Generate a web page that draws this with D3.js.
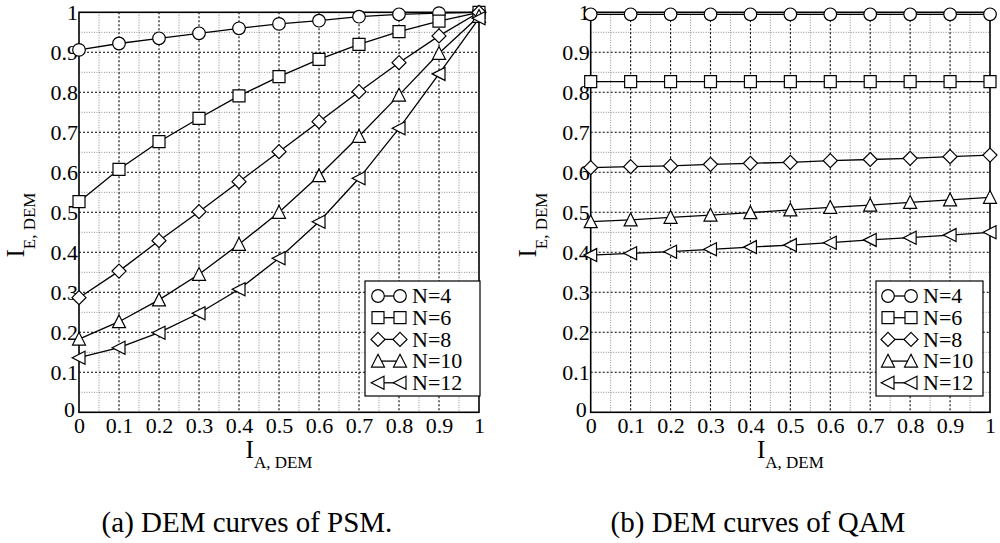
<!DOCTYPE html>
<html>
<head>
<meta charset="utf-8">
<script src="https://cdn.jsdelivr.net/npm/d3@7"></script>
</head>
<body style="margin:0;background:#fff">
<svg id="chart" width="1000" height="543" style="display:block"></svg>
<script>
// ---------- data ----------
const xValues = [0, 0.1, 0.2, 0.3, 0.4, 0.5, 0.6, 0.7, 0.8, 0.9, 1];
const xTickValues = [0, 0.1, 0.2, 0.3, 0.4, 0.5, 0.6, 0.7, 0.8, 0.9, 1];
const xTickLabels = ["0", "0.1", "0.2", "0.3", "0.4", "0.5", "0.6", "0.7", "0.8", "0.9", "1"];
const yTickValues = [0, 0.1, 0.2, 0.3, 0.4, 0.5, 0.6, 0.7, 0.8, 0.9, 1];
const yTickLabels = ["0", "0.1", "0.2", "0.3", "0.4", "0.5", "0.6", "0.7", "0.8", "0.9", "1"];
const seriesNames = ["N=4", "N=6", "N=8", "N=10", "N=12"];
const seriesMarkers = ["circle", "square", "diamond", "triangleUp", "triangleLeft"];

// (a) PSM
const psmN4  = [0.906, 0.922, 0.935, 0.9475, 0.96, 0.971, 0.979, 0.989, 0.995, 0.998, 1.0];
const psmN6  = [0.5265, 0.6075, 0.6765, 0.735, 0.791, 0.839, 0.8825, 0.92, 0.9515, 0.978, 1.0];
const psmN8  = [0.2865, 0.353, 0.429, 0.5015, 0.5765, 0.6515, 0.7265, 0.8015, 0.874, 0.941, 1.0];
const psmN10 = [0.183, 0.2265, 0.281, 0.345, 0.42, 0.5, 0.5915, 0.69, 0.793, 0.8975, 0.99];
const psmN12 = [0.1365, 0.1615, 0.199, 0.2475, 0.3075, 0.385, 0.4765, 0.585, 0.71, 0.846, 0.985];

// (b) QAM
const qamN4  = [0.995, 0.995, 0.995, 0.995, 0.995, 0.995, 0.995, 0.995, 0.995, 0.995, 0.995];
const qamN6  = [0.8265, 0.8265, 0.8265, 0.8265, 0.8265, 0.8265, 0.8265, 0.8265, 0.8265, 0.8265, 0.8265];
const qamN8  = [0.6115, 0.614, 0.616, 0.62, 0.6225, 0.625, 0.629, 0.632, 0.635, 0.639, 0.643];
const qamN10 = [0.4765, 0.481, 0.4875, 0.493, 0.499, 0.506, 0.5125, 0.518, 0.525, 0.531, 0.5375];
const qamN12 = [0.393, 0.3975, 0.4015, 0.4075, 0.413, 0.418, 0.424, 0.431, 0.4365, 0.443, 0.45];

const xLabelMain = "I";
const xLabelSub = "A, DEM";
const yLabelMain = "I";
const yLabelSub = "E, DEM";
const captionA = "(a) DEM curves of PSM.";
const captionB = "(b) DEM curves of QAM";

// ---------- layout ----------
const FONT = '"Liberation Serif", "Times New Roman", monospace';
const svg = d3.select("#chart");
const panels = [
  { left: 79, right: 479, top: 12.3, bottom: 412.3,
    series: [psmN4, psmN6, psmN8, psmN10, psmN12],
    legend: { x: 365, y: 281, w: 115, h: 115, sym1: 13, sym2: 35, text: 47 },
    caption: captionA, captionX: 247 },
  { left: 590.7, right: 990, top: 12.3, bottom: 412.3,
    series: [qamN4, qamN6, qamN8, qamN10, qamN12],
    legend: { x: 876, y: 281, w: 107, h: 115, sym1: 12, sym2: 35, text: 47 },
    caption: captionB, captionX: 758 }
];

function markerPath(type) {
  const p = d3.path();
  if (type === "circle") {
    p.arc(0, 0, 6.3, 0, 2 * Math.PI);
  } else if (type === "square") {
    p.rect(-6, -6, 12, 12);
  } else if (type === "diamond") {
    p.moveTo(0, -7); p.lineTo(7, 0); p.lineTo(0, 7); p.lineTo(-7, 0); p.closePath();
  } else if (type === "triangleUp") {
    p.moveTo(0, -6.8); p.lineTo(6.5, 6); p.lineTo(-6.5, 6); p.closePath();
  } else if (type === "triangleLeft") {
    p.moveTo(-6.8, 0); p.lineTo(6, -6.5); p.lineTo(6, 6.5); p.closePath();
  }
  return p.toString();
}

panels.forEach(pn => {
  const g = svg.append("g");
  const x = d3.scaleLinear().domain([0, 1]).range([pn.left, pn.right]);
  const y = d3.scaleLinear().domain([0, 1]).range([pn.bottom, pn.top]);

  // minor grid (0.05)
  const minor = d3.range(0.05, 1, 0.1);
  g.append("g").selectAll("line").data(minor).join("line")
    .attr("x1", d => x(d)).attr("x2", d => x(d))
    .attr("y1", pn.top).attr("y2", pn.bottom)
    .attr("stroke", "#8a8a8a").attr("stroke-width", 1).attr("stroke-dasharray", "1,1.5");
  g.append("g").selectAll("line").data(minor).join("line")
    .attr("y1", d => y(d)).attr("y2", d => y(d))
    .attr("x1", pn.left).attr("x2", pn.right)
    .attr("stroke", "#8a8a8a").attr("stroke-width", 1).attr("stroke-dasharray", "1,1.5");

  // major grid (0.1)
  const major = xTickValues.slice(1, -1);
  g.append("g").selectAll("line").data(major).join("line")
    .attr("x1", d => x(d)).attr("x2", d => x(d))
    .attr("y1", pn.top).attr("y2", pn.bottom)
    .attr("stroke", "#000").attr("stroke-width", 1.1).attr("stroke-dasharray", "2,2");
  g.append("g").selectAll("line").data(major).join("line")
    .attr("y1", d => y(d)).attr("y2", d => y(d))
    .attr("x1", pn.left).attr("x2", pn.right)
    .attr("stroke", "#000").attr("stroke-width", 1.1).attr("stroke-dasharray", "2,2");

  // frame
  g.append("rect")
    .attr("x", pn.left).attr("y", pn.top)
    .attr("width", pn.right - pn.left).attr("height", pn.bottom - pn.top)
    .attr("fill", "none").attr("stroke", "#000").attr("stroke-width", 1.6);

  // x axis tick labels
  const xAxis = d3.axisBottom(x).tickValues(xTickValues)
    .tickFormat((d, i) => xTickLabels[i]).tickSize(0).tickPadding(0);
  const xa = g.append("g").attr("transform", `translate(0,${pn.bottom})`).call(xAxis);
  xa.select(".domain").remove();
  xa.selectAll("text").attr("y", 21).attr("dy", null)
    .style("font-family", FONT).style("font-size", "22px").style("fill", "#000");

  // y axis tick labels
  const yAxis = d3.axisLeft(y).tickValues(yTickValues)
    .tickFormat((d, i) => yTickLabels[i]).tickSize(0).tickPadding(0);
  const ya = g.append("g").attr("transform", `translate(${pn.left - 1},0)`).call(yAxis);
  ya.select(".domain").remove();
  ya.selectAll("text").attr("x", 0).attr("dy", "0.34em")
    .style("font-family", FONT).style("font-size", "22px").style("fill", "#000");
  ya.selectAll("text").filter((d) => d === 0).attr("x", -3).attr("dy", "0.2em");

  // lines + markers
  const line = d3.line().x((d, i) => x(xValues[i])).y(d => y(d));
  pn.series.forEach((vals) => {
    g.append("path").datum(vals).attr("d", line)
      .attr("fill", "none").attr("stroke", "#000").attr("stroke-width", 1.3);
  });
  pn.series.forEach((vals, si) => {
    g.append("g").selectAll("path").data(vals).join("path")
      .attr("transform", (d, i) => `translate(${x(xValues[i])},${y(d)})`)
      .attr("d", markerPath(seriesMarkers[si]))
      .attr("fill", "#fff").attr("stroke", "#000").attr("stroke-width", 1.2);
  });

  // legend
  const L = pn.legend;
  const lg = g.append("g").attr("transform", `translate(${L.x},${L.y})`);
  lg.append("rect").attr("width", L.w).attr("height", L.h)
    .attr("fill", "#fff").attr("stroke", "#000").attr("stroke-width", 1.2);
  seriesNames.forEach((name, i) => {
    const cy = 15 + i * 21.7;
    lg.append("line").attr("x1", L.sym1).attr("x2", L.sym2).attr("y1", cy).attr("y2", cy)
      .attr("stroke", "#000").attr("stroke-width", 1.3);
    [L.sym1, L.sym2].forEach(sx => {
      lg.append("path").attr("transform", `translate(${sx},${cy})`)
        .attr("d", markerPath(seriesMarkers[i]))
        .attr("fill", "#fff").attr("stroke", "#000").attr("stroke-width", 1.2);
    });
    lg.append("text").attr("x", L.text).attr("y", cy).attr("dy", "0.33em")
      .style("font-family", FONT).style("font-size", "22px").text(name);
  });

  // x label
  const cx = (pn.left + pn.right) / 2;
  const xl = g.append("text").attr("x", cx).attr("y", 458).attr("text-anchor", "middle")
    .style("font-family", FONT);
  xl.append("tspan").style("font-size", "25px").text(xLabelMain);
  xl.append("tspan").attr("dy", 10).style("font-size", "17px").text(xLabelSub);

  // y label
  const yl = g.append("text")
    .attr("transform", `translate(${pn.left - 55},225) rotate(-90)`)
    .attr("text-anchor", "middle").style("font-family", FONT);
  yl.append("tspan").style("font-size", "25px").text(yLabelMain);
  yl.append("tspan").attr("dy", 11).style("font-size", "17px").text(yLabelSub);

  // caption
  g.append("text").attr("x", pn.captionX).attr("y", 531.5).attr("text-anchor", "middle")
    .style("font-family", FONT).style("font-size", "29px").text(pn.caption);
});
</script>
</body>
</html>
